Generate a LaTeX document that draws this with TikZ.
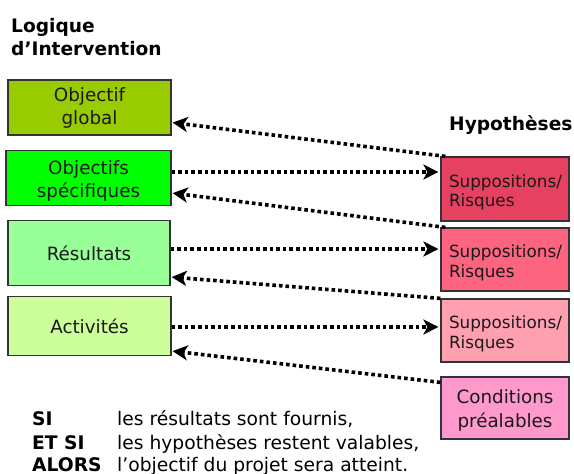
\documentclass[tikz,border=0pt]{standalone}
\usepackage{fontspec}
\setmainfont{DejaVu Sans}
\usetikzlibrary{arrows.meta,calc}
\definecolor{cog}{HTML}{99CC00}
\definecolor{cos}{HTML}{00FF00}
\definecolor{cres}{HTML}{99FF99}
\definecolor{cact}{HTML}{CCFF99}
\definecolor{chun}{HTML}{E64160}
\definecolor{chde}{HTML}{FC6480}
\definecolor{chtr}{HTML}{FFA0B0}
\definecolor{ccond}{HTML}{FF99CC}
\newcommand{\hautl}[1]{\rule{0pt}{#1pt}}
\tikzset{
  x=1pt,y=-1pt,
  boite/.style={draw=black!80,line width=1.2pt,minimum height=0pt,minimum width=0pt,inner sep=0pt,align=center,font=\fontsize{18.3}{23}\selectfont,text=black!90},
  hypo/.style={boite,align=left,font=\fontsize{16.8}{19.5}\selectfont},
  cond/.style={boite,font=\fontsize{18.3}{24}\selectfont},
  titre/.style={inner sep=0pt,anchor=base west,align=left,font=\fontsize{18.6}{23}\selectfont\bfseries},
  lig/.style={inner sep=0pt,anchor=base west,font=\fontsize{18.7}{18}\selectfont},
  ligb/.style={lig,font=\fontsize{18.7}{18}\selectfont\bfseries},
  fl/.style={line width=3.6pt,dash pattern=on 3.6pt off 3pt,-{Stealth[length=15pt,width=15pt,inset=4pt,sep=0pt]}},
}
\begin{document}
\begin{tikzpicture}
\useasboundingbox (0,0) rectangle (574,474);
\node[boite,fill=cog,minimum width=163pt,minimum height=55pt] (og) at (89.5,107.5) {\hautl{15}Objectif\\global};
\node[boite,fill=cos,minimum width=165pt,minimum height=55pt] (os) at (88.5,178) {\hautl{20}Objectifs\\spécifiques};
\node[boite,fill=cres,minimum width=162pt,minimum height=65pt] (res) at (89,253) {Résultats};
\node[boite,fill=cact,minimum width=163pt,minimum height=59pt] (act) at (89.5,326) {Activités};
\node[hypo,fill=chun,minimum width=128pt,minimum height=64pt,text width=112pt] (hu) at (505,189) {\hautl{19}Suppositions/\\Risques};
\node[hypo,fill=chde,minimum width=128pt,minimum height=63pt,text width=112pt] (hd) at (505,259.5) {\hautl{19}Suppositions/\\Risques};
\node[hypo,fill=chtr,minimum width=128pt,minimum height=63pt,text width=112pt] (ht) at (505,330.5) {\hautl{19}Suppositions/\\Risques};
\node[cond,fill=ccond,minimum width=128pt,minimum height=62pt] (cp) at (505,408) {\hautl{18}Conditions\\préalables};
\node[titre] (tl) at (11,32) {Logique};
\node[titre] (tm) at (11,55) {d’Intervention};
\node[titre] (th) at (449,130) {Hypothèses};
\node[ligb] (s1) at (32,425) {SI};
\node[ligb] (s2) at (32,449) {ET SI};
\node[ligb] (s3) at (32,471) {ALORS};
\node[lig] (l1) at (117,425) {les résultats sont fournis,};
\node[lig] (l2) at (117,449) {les hypothèses restent valables,};
\node[lig] (l3) at (117,471) {l’objectif du projet sera atteint.};
\draw[fl] ($(hu.north west)+(5,0)$) -- ($(og.south east)+(1,-13)$);
\draw[fl] ($(os.east)+(0,-6)$) -- ($(hu.west)+(-2,-17)$);
\draw[fl] ($(hd.north west)+(5,0)$) -- ($(os.south east)+(1,-13)$);
\draw[fl] ($(res.east)+(0,-4)$) -- ($(hd.west)+(-2,-10.5)$);
\draw[fl] ($(ht.north west)+(0,0)$) -- ($(res.south east)+(1,-9)$);
\draw[fl] ($(act.east)+(0,1)$) -- ($(ht.west)+(-2,-3.5)$);
\draw[fl] (cp.north west) ++(0,6) -- ($(act.south east)+(1,-5)$);
\end{tikzpicture}
\end{document}
